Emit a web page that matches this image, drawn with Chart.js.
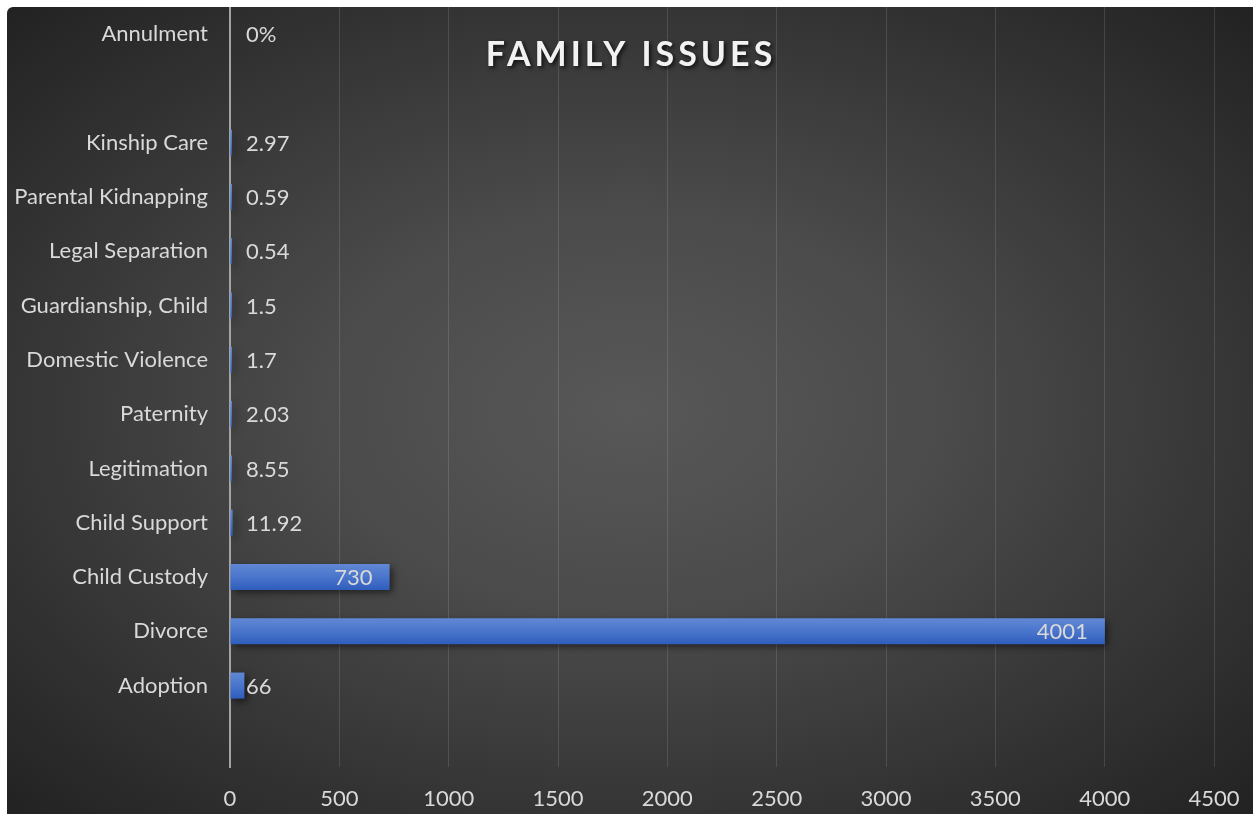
<!DOCTYPE html>
<html>
<head>
<meta charset="utf-8">
<title>Family Issues</title>
<script src="https://cdn.jsdelivr.net/npm/chart.js@4/dist/chart.umd.min.js"></script>
<style>
  html, body { margin: 0; padding: 0; background: #ffffff; }
  #wrap {
    position: absolute; left: 7px; top: 7px; width: 1246px; height: 807px;
    border-radius: 6px 0 0 0; overflow: hidden;
    background: radial-gradient(farthest-corner at 50% 50%, #585858 0%, #4b4b4b 35%, #222222 100%);
  }
  canvas { display: block; }
</style>
</head>
<body>
<div id="wrap"><canvas id="chart" width="1246" height="807"></canvas></div>
<script>
// Case categories, top to bottom (blank rows are spacer slots)
const categories = ['Annulment', '', 'Kinship Care', 'Parental Kidnapping', 'Legal Separation',
  'Guardianship, Child', 'Domestic Violence', 'Paternity', 'Legitimation', 'Child Support',
  'Child Custody', 'Divorce', 'Adoption', ''];
// Case counts per category
const caseCounts = [0, null, 2.97, 0.59, 0.54, 1.5, 1.7, 2.03, 8.55, 11.92, 730, 4001, 66, null];
// Text printed beside each bar
const valueLabels = ['0%', '', '2.97', '0.59', '0.54', '1.5', '1.7', '2.03', '8.55', '11.92', '730', '4001', '66', ''];
// Values at or above this get their label inside the bar end
const insideLabelMin = 500;
const xTicks = [0, 500, 1000, 1500, 2000, 2500, 3000, 3500, 4000, 4500];

const FONT = 'Lato, "Open Sans", sans-serif';
const TEXT = '#d9d9d9';
const BAR_HALF = 13;

function barFill(ctx) {
  const v = ctx.raw;
  if (!v) return 'rgba(0,0,0,0)';
  const chart = ctx.chart;
  const y = chart.scales.y;
  if (!y || y.top === undefined) return '#4472c4';
  const c = y.getPixelForValue(ctx.dataIndex);
  const g = chart.ctx.createLinearGradient(0, c - BAR_HALF, 0, c + BAR_HALF);
  g.addColorStop(0, '#6088d4');
  g.addColorStop(0.5, '#4a75cc');
  g.addColorStop(1, '#2e5dbc');
  return g;
}

const barShadowAndLabels = {
  id: 'barShadowAndLabels',
  beforeDatasetsDraw(chart) {
    const c = chart.ctx;
    c.save();
    c.shadowColor = 'rgba(0,0,0,0.55)';
    c.shadowBlur = 7;
    c.shadowOffsetX = 3;
    c.shadowOffsetY = 3;
  },
  afterDatasetsDraw(chart) {
    const c = chart.ctx;
    c.restore();
    const meta = chart.getDatasetMeta(0);
    const base = chart.scales.x.getPixelForValue(0);
    c.save();
    c.font = '22px ' + FONT;
    c.fillStyle = TEXT;
    c.textBaseline = 'middle';
    meta.data.forEach((bar, i) => {
      const txt = valueLabels[i];
      if (!txt) return;
      const v = caseCounts[i] || 0;
      const yc = chart.scales.y.getPixelForValue(i) + 1;
      if (v >= insideLabelMin) {
        c.textAlign = 'right';
        c.fillText(txt, bar.x - 17, yc);
      } else {
        c.textAlign = 'left';
        const end = v ? bar.x : base;
        c.fillText(txt, Math.max(end + 1, base + 16), yc);
      }
    });
    c.restore();
  }
};

const chartTitle = {
  id: 'chartTitle',
  afterDraw(chart) {
    const c = chart.ctx;
    c.save();
    c.font = 'bold 34px ' + FONT;
    c.letterSpacing = '4px';
    c.textAlign = 'center';
    c.textBaseline = 'middle';
    c.shadowColor = 'rgba(0,0,0,0.75)';
    c.shadowBlur = 4;
    c.shadowOffsetX = 2;
    c.shadowOffsetY = 2;
    c.fillStyle = '#f2f2f2';
    c.fillText('FAMILY ISSUES', chart.width / 2 + 1, 48);
    c.restore();
  }
};

new Chart(document.getElementById('chart'), {
  type: 'bar',
  data: {
    labels: categories,
    datasets: [{
      data: caseCounts,
      backgroundColor: barFill,
      borderWidth: 0,
      barPercentage: 0.48,
      categoryPercentage: 1,
      minBarLength: 2
    }]
  },
  options: {
    indexAxis: 'y',
    responsive: false,
    animation: false,
    events: [],
    layout: { padding: { left: 0, right: 39, top: 0, bottom: 0 } },
    plugins: {
      legend: { display: false },
      title: { display: false },
      tooltip: { enabled: false }
    },
    scales: {
      x: {
        min: 0, max: 4500,
        afterBuildTicks(scale) { scale.ticks = xTicks.map(v => ({ value: v })); },
        afterFit(scale) { scale.height = 47; scale.paddingLeft = 0; scale.paddingRight = 0; },
        grid: { color: 'rgba(255,255,255,0.12)', lineWidth: 1, drawTicks: false },
        border: { display: false },
        ticks: {
          color: TEXT, font: { family: FONT, size: 22 }, padding: 19, maxRotation: 0,
          callback: v => String(v)
        }
      },
      y: {
        afterFit(scale) { scale.width = 223; scale.paddingTop = 0; scale.paddingBottom = 0; },
        grid: { display: false, drawTicks: false },
        border: { display: true, color: '#a3a3a3', width: 2 },
        ticks: { color: TEXT, font: { family: FONT, size: 22 }, padding: 22, autoSkip: false }
      }
    }
  },
  plugins: [barShadowAndLabels, chartTitle]
});
</script>
</body>
</html>
